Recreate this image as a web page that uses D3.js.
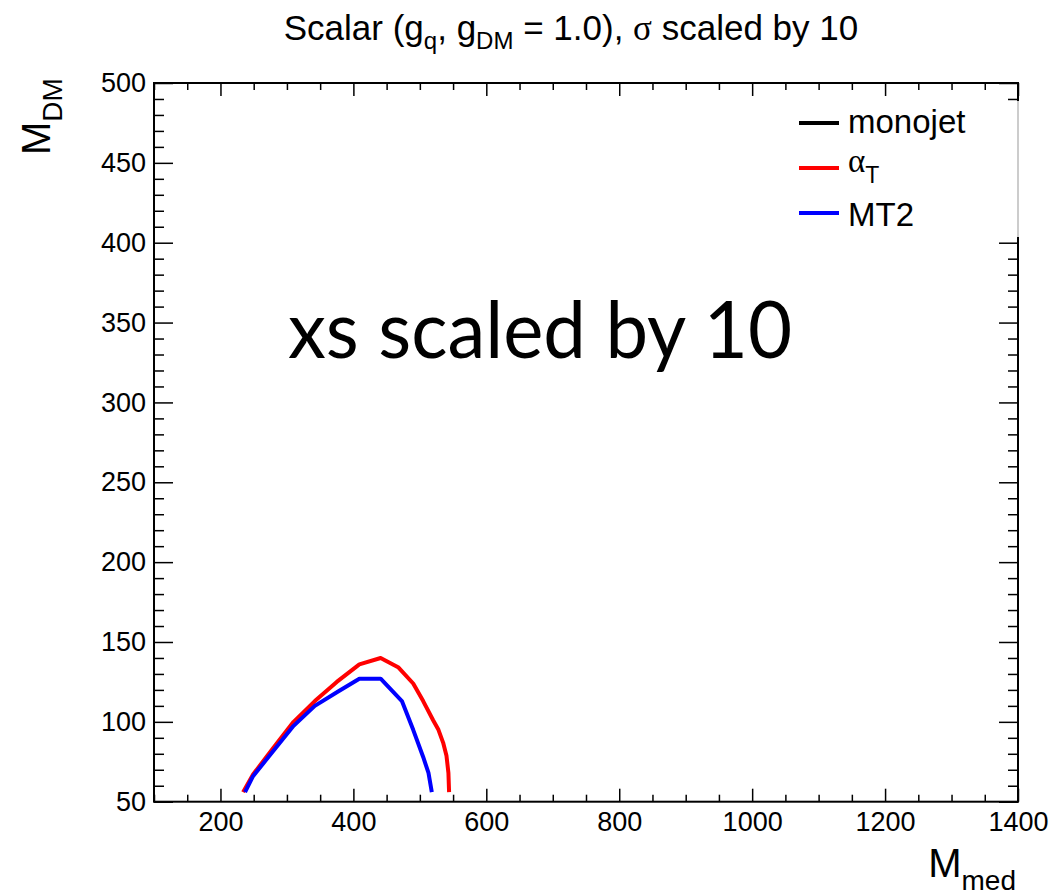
<!DOCTYPE html>
<html>
<head>
<meta charset="utf-8">
<script src="https://cdn.jsdelivr.net/npm/d3@7"></script>
<style>
  html, body { margin: 0; padding: 0; background: #fff; }
  svg { display: block; }
  text { font-family: "Liberation Sans", Arial, sans-serif; fill: #000; }
</style>
</head>
<body>
<svg id="chart" width="1052" height="895"></svg>
<script>
// Exclusion contours in the (M_med, M_DM) plane, cross section scaled by 10
const alphaTMed = [234, 249, 280, 310, 342, 375, 409, 441, 468, 490, 505, 520, 528, 535, 540, 543, 544];
const alphaTDM  = [56, 67, 84, 100, 113, 125, 136, 140, 134, 124, 113, 101, 95, 87, 79, 68, 56];
const mt2Med    = [237, 249, 280, 310, 342, 377, 409, 441, 473, 490, 505, 513, 518];
const mt2DM     = [56, 66, 82, 97.5, 110, 119, 127, 127, 113, 95, 78, 68, 56];
const monojetMed = [];
const monojetDM  = [];

const xMajorTicks = [200, 400, 600, 800, 1000, 1200, 1400];
const yMajorTicks = [50, 100, 150, 200, 250, 300, 350, 400, 450, 500];

const series = [
  { name: "monojet", color: "#000000", med: monojetMed, dm: monojetDM },
  { name: "alphaT",  color: "#ff0000", med: alphaTMed,  dm: alphaTDM },
  { name: "MT2",     color: "#0000ff", med: mt2Med,     dm: mt2DM }
];

const svg = d3.select("#chart");
const frameL = 154, frameR = 1018, frameT = 83, frameB = 801.7;

const x = d3.scaleLinear().domain([100, 1400]).range([frameL, frameR]);
const y = d3.scaleLinear().domain([50, 500]).range([frameB, frameT]);

const xMinor = d3.range(100, 1401, 50).filter(v => !xMajorTicks.includes(v));
const yMinor = d3.range(50, 501, 10).filter(v => !yMajorTicks.includes(v));

function styleAxis(g) {
  g.select(".domain").remove();
  g.selectAll(".tick line").attr("stroke", "#000").attr("stroke-width", 1.5);
  g.selectAll(".tick text").style("font-size", "27px").attr("fill", "#000");
}

// bottom axis (ticks point inward)
svg.append("g").attr("transform", `translate(0,${frameB})`)
  .call(d3.axisBottom(x).tickValues(xMajorTicks).tickSize(-13).tickPadding(10).tickFormat(d3.format("d")))
  .call(styleAxis);
svg.append("g").attr("transform", `translate(0,${frameB})`)
  .call(d3.axisBottom(x).tickValues(xMinor).tickSize(-7).tickFormat(""))
  .call(styleAxis);
// top mirrored ticks
svg.append("g").attr("transform", `translate(0,${frameT})`)
  .call(d3.axisTop(x).tickValues(xMajorTicks).tickSize(-13).tickFormat(""))
  .call(styleAxis);
svg.append("g").attr("transform", `translate(0,${frameT})`)
  .call(d3.axisTop(x).tickValues(xMinor).tickSize(-7).tickFormat(""))
  .call(styleAxis);

// left axis
svg.append("g").attr("transform", `translate(${frameL},0)`)
  .call(d3.axisLeft(y).tickValues(yMajorTicks).tickSize(-19).tickPadding(8).tickFormat(d3.format("d")))
  .call(styleAxis);
svg.append("g").attr("transform", `translate(${frameL},0)`)
  .call(d3.axisLeft(y).tickValues(yMinor).tickSize(-10).tickFormat(""))
  .call(styleAxis);
// right mirrored ticks
svg.append("g").attr("transform", `translate(${frameR},0)`)
  .call(d3.axisRight(y).tickValues(yMajorTicks).tickSize(-19).tickFormat(""))
  .call(styleAxis);
svg.append("g").attr("transform", `translate(${frameR},0)`)
  .call(d3.axisRight(y).tickValues(yMinor).tickSize(-10).tickFormat(""))
  .call(styleAxis);

// frame
svg.append("rect")
  .attr("x", frameL).attr("y", frameT)
  .attr("width", frameR - frameL).attr("height", frameB - frameT)
  .attr("fill", "none").attr("stroke", "#000").attr("stroke-width", 2);

// contours
const line = d3.line().x(d => x(d[0])).y(d => y(d[1]));
series.forEach(s => {
  const pts = s.med.map((m, i) => [m, s.dm[i]]);
  if (pts.length < 2) return;
  svg.append("path")
    .attr("d", line(pts))
    .attr("fill", "none")
    .attr("stroke", s.color)
    .attr("stroke-width", 4)
    .attr("stroke-linejoin", "round");
});

// legend box (covers part of the right frame)
svg.append("rect").attr("x", 790).attr("y", 101).attr("width", 229).attr("height", 136)
  .attr("fill", "#fff");
svg.append("line").attr("x1", 1018).attr("x2", 1018).attr("y1", 101).attr("y2", 237)
  .attr("stroke", "#bbb").attr("stroke-width", 1.5);

const legendRows = [
  { color: "#000000", y: 123 },
  { color: "#ff0000", y: 168 },
  { color: "#0000ff", y: 213 }
];
legendRows.forEach(r => {
  svg.append("line").attr("x1", 799).attr("x2", 839).attr("y1", r.y).attr("y2", r.y)
    .attr("stroke", r.color).attr("stroke-width", 4);
});
svg.append("text").attr("x", 848).attr("y", 133).style("font-size", "33px").text("monojet");
const aT = svg.append("text").attr("x", 848).attr("y", 172).style("font-size", "33px");
aT.append("tspan").style("font-family", "'Liberation Serif', serif").text("α");
aT.append("tspan").attr("dy", 11).style("font-size", "23px").text("T");
svg.append("text").attr("x", 848).attr("y", 226).style("font-size", "33px").text("MT2");

// title
const title = svg.append("text").attr("x", 571).attr("y", 40)
  .attr("text-anchor", "middle").style("font-size", "35px");
title.append("tspan").text("Scalar (g");
title.append("tspan").attr("dy", 9).style("font-size", "24px").text("q");
title.append("tspan").attr("dy", -9).text(", g");
title.append("tspan").attr("dy", 9).style("font-size", "24px").text("DM");
title.append("tspan").attr("dy", -9).text(" = 1.0), ");
title.append("tspan").style("font-family", "'Liberation Serif', serif").text("σ");
title.append("tspan").text(" scaled by 10");

// axis titles
const xt = svg.append("text").attr("x", 1016).attr("y", 877)
  .attr("text-anchor", "end").style("font-size", "40px");
xt.append("tspan").text("M");
xt.append("tspan").attr("dy", 13).style("font-size", "28px").text("med");

const yt = svg.append("text").attr("transform", "translate(50,155) rotate(-90)")
  .attr("text-anchor", "start").style("font-size", "40px");
yt.append("tspan").text("M");
yt.append("tspan").attr("dy", 12).style("font-size", "28px").text("DM");

// annotation
svg.append("text").attr("x", 288).attr("y", 358)
  .attr("textLength", 504).attr("lengthAdjust", "spacingAndGlyphs")
  .style("font-family", "Lato, 'Open Sans', sans-serif").style("font-size", "79px")
  .text("xs scaled by 10");
</script>
</body>
</html>
